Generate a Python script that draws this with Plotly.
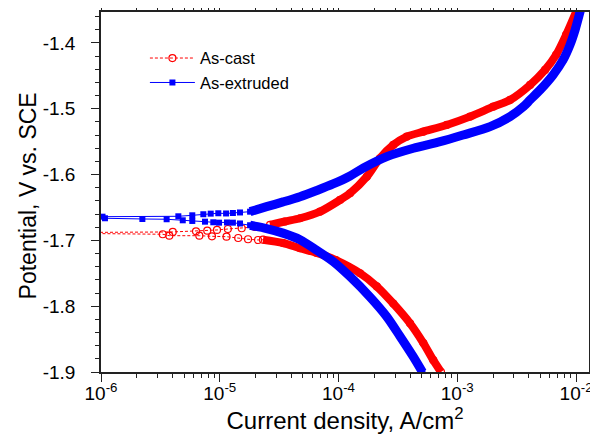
import plotly.graph_objects as go

# ---- As-cast (red): scan order, cathodic -> Ecorr -> anodic ----
cast_i = [7.29e-4, 6.28e-4, 5.18e-4, 4.00e-4, 2.89e-4, 2.10e-4, 1.52e-4, 9.5e-5, 6.55e-5, 4.74e-5, 3.41e-5, 2.31e-5,
          2.10e-5, 1.73e-5, 1.43e-5, 1.14e-5, 8.60e-6, 6.73e-6, 3.76e-6, 3.31e-6, 5.0e-7,
          6.0e-7, 4.02e-6, 6.31e-6, 7.85e-6, 9.48e-6, 1.17e-5, 1.53e-5, 1.98e-5,
          2.65e-5, 3.54e-5, 4.74e-5, 6.98e-5, 1.03e-4, 1.25e-4, 1.73e-4, 2.23e-4, 2.89e-4, 3.75e-4, 5.18e-4,
          8.15e-4, 1.28e-3, 2.01e-3, 2.78e-3, 4.10e-3, 5.48e-3, 6.79e-3, 8.24e-3, 1.0e-2]
cast_E = [-1.900, -1.882, -1.856, -1.826, -1.796, -1.770, -1.750, -1.730, -1.719, -1.712, -1.704, -1.699,
          -1.6994, -1.6983, -1.6964, -1.6944, -1.6938, -1.6929, -1.6929, -1.6907, -1.6892,
          -1.6880, -1.6872, -1.6862, -1.6853, -1.6842, -1.6827, -1.6816, -1.6796,
          -1.6766, -1.6713, -1.6664, -1.6564, -1.6386, -1.6284, -1.6032, -1.5752, -1.555, -1.5424, -1.5348,
          -1.5246, -1.512, -1.4968, -1.4866, -1.4638, -1.441, -1.4182, -1.3878, -1.3529]

# ---- As-extruded (blue) ----
ext_i = [5.09e-4, 4.27e-4, 3.30e-4, 2.55e-4, 1.84e-4, 1.25e-4, 9.0e-5, 6.55e-5, 4.74e-5, 3.41e-5, 2.48e-5, 1.80e-5,
         1.48e-5, 1.29e-5, 1.15e-5, 9.86e-6, 8.82e-6, 7.51e-6, 5.87e-6, 4.88e-6, 3.57e-6, 2.23e-6, 1.08e-6,
         1.03e-6, 4.48e-6, 5.87e-6, 7.27e-6, 8.39e-6, 9.72e-6, 1.13e-5, 1.29e-5, 1.48e-5, 1.80e-5,
         2.48e-5, 3.41e-5, 4.74e-5, 6.55e-5, 9.0e-5, 1.25e-4, 1.62e-4, 2.55e-4, 4.27e-4, 7.16e-4, 1.12e-3,
         1.89e-3, 2.78e-3, 3.60e-3, 4.10e-3, 4.98e-3, 6.40e-3, 7.78e-3, 8.89e-3, 9.82e-3, 1.08e-2, 1.12e-2]
ext_E = [-1.900, -1.877, -1.846, -1.816, -1.786, -1.755, -1.732, -1.715, -1.699, -1.689, -1.682, -1.677,
         -1.6743, -1.6731, -1.6728, -1.6731, -1.6725, -1.6716, -1.6705, -1.6695, -1.6679, -1.6675, -1.6664,
         -1.6640, -1.6634, -1.6619, -1.6603, -1.6594, -1.6588, -1.6591, -1.6584, -1.6576, -1.6564,
         -1.6488, -1.6416, -1.6336, -1.6242, -1.6143, -1.6021, -1.590, -1.5728, -1.560, -1.550, -1.5398,
         -1.5272, -1.512, -1.4968, -1.4866, -1.4714, -1.4486, -1.4258, -1.403, -1.3802, -1.3529, -1.342]

x_tickvals = [1e-6, 1e-5, 1e-4, 1e-3, 1e-2]
x_ticktext = ["10<sup>-6</sup>", "10<sup>-5</sup>", "10<sup>-4</sup>", "10<sup>-3</sup>", "10<sup>-2</sup>"]
y_tickvals = [-1.9, -1.8, -1.7, -1.6, -1.5, -1.4]
y_ticktext = ["-1.9", "-1.8", "-1.7", "-1.6", "-1.5", "-1.4"]
x_title = "Current density, A/cm<sup>2</sup>"
y_title = "Potential, V vs. SCE"

RED = "#FF0000"
BLUE = "#0000FF"
FONT = "Liberation Sans, Arial, sans-serif"
AX = "#222222"

fig = go.Figure()

band = dict(mode="lines", showlegend=False, hoverinfo="skip")
# dense bands (overlapping markers in the original)
fig.add_trace(go.Scatter(x=cast_i[:12], y=cast_E[:12], line=dict(color=RED, width=8, shape="spline", smoothing=0.8), **band))
fig.add_trace(go.Scatter(x=cast_i[29:], y=cast_E[29:], line=dict(color=RED, width=8, shape="spline", smoothing=0.8), **band))
fig.add_trace(go.Scatter(x=cast_i, y=cast_E, mode="lines+markers", name="As-cast",
                         line=dict(color=RED, width=1, dash="3px,2px"),
                         marker=dict(symbol="circle-open", size=7, color=RED, line=dict(width=1.2, color=RED))))

fig.add_trace(go.Scatter(x=ext_i[:12], y=ext_E[:12], line=dict(color=BLUE, width=9, shape="spline", smoothing=0.8), **band))
fig.add_trace(go.Scatter(x=ext_i[32:], y=ext_E[32:], line=dict(color=BLUE, width=9, shape="spline", smoothing=0.8), **band))
fig.add_trace(go.Scatter(x=ext_i, y=ext_E, mode="lines+markers", name="As-extruded",
                         line=dict(color=BLUE, width=1),
                         marker=dict(symbol="square", size=6, color=BLUE)))

fig.update_layout(
    width=598, height=437,
    margin=dict(l=93, r=17, t=4, b=73, autoexpand=False),
    paper_bgcolor="white", plot_bgcolor="white",
    font=dict(family=FONT, size=19, color="black"),
    legend=dict(x=0.09, y=0.92, xanchor="left", yanchor="top", bgcolor="rgba(0,0,0,0)",
                font=dict(size=16.5, family=FONT), tracegroupgap=0, itemwidth=45),
    showlegend=True,
    annotations=[dict(text=y_title, xref="paper", yref="paper", x=-0.15, y=0.49,
                      xanchor="center", yanchor="middle", textangle=-90, showarrow=False,
                      font=dict(size=23, family=FONT, color="black"))],
)
fig.update_xaxes(
    type="log", range=[-6, -1.891], automargin=False,
    tickvals=x_tickvals, ticktext=x_ticktext,
    ticks="outside", ticklen=8, tickwidth=1.2, tickcolor=AX,
    minor=dict(ticks="outside", ticklen=4, tickwidth=1, tickcolor=AX, dtick="D1"),
    showline=True, linecolor=AX, linewidth=1.5, mirror="allticks",
    showgrid=False, zeroline=False, ticklabelstandoff=-5,
    title=dict(text=x_title, font=dict(size=24, family=FONT), standoff=4),
    tickfont=dict(size=19, family=FONT),
)
fig.update_yaxes(
    range=[-1.9, -1.353], automargin=False,
    tickvals=y_tickvals, ticktext=y_ticktext,
    ticks="outside", ticklen=8, tickwidth=1.2, tickcolor=AX,
    minor=dict(ticks="outside", ticklen=4, tickwidth=1, tickcolor=AX, dtick=0.02, tick0=-1.9),
    showline=True, linecolor=AX, linewidth=1.5, mirror="allticks",
    showgrid=False, zeroline=False, ticklabelstandoff=12,
    tickfont=dict(size=19, family=FONT),
)

fig.write_html("out.html")
